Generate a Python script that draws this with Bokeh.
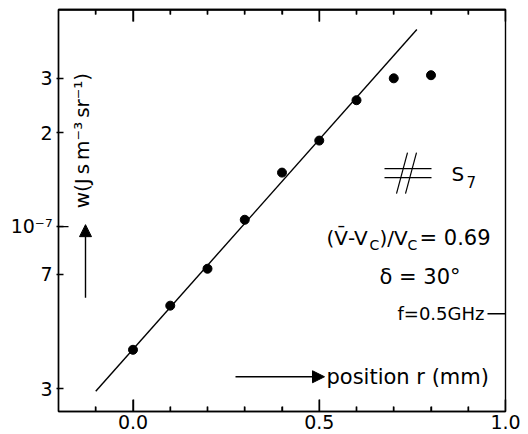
import math
from bokeh.plotting import figure
from bokeh.models import (Range1d, FixedTicker, LinearAxis, CustomJSTickFormatter,
                          Label, Arrow, NormalHead)
from bokeh.embed import file_html
from bokeh.resources import INLINE

# ---- data ----
x_pos = [0.0, 0.1, 0.2, 0.3, 0.4, 0.5, 0.6, 0.7, 0.8]
w_vals = [4.0e-8, 5.55e-8, 7.3e-8, 1.05e-7, 1.49e-7, 1.89e-7, 2.55e-7, 3.0e-7, 3.07e-7]
fit_x = [-0.1, 0.762]
fit_w = [2.94e-8, 4.31e-7]
x_ticks = [0.0, 0.5, 1.0]
x_tick_labels = ["0.0", "0.5", "1.0"]
x_minor = [-0.1, 0.1, 0.2, 0.3, 0.4, 0.6, 0.7, 0.8, 0.9]
y_ticks = [3e-8, 7e-8, 1e-7, 2e-7, 3e-7]
y_tick_labels = ["3", "7", "10⁻⁷", "2", "3"]

X_MIN, X_MAX = -0.2, 1.0
W_MIN, W_MAX = 2.53e-8, 5.0e-7

FONT = "DejaVu Sans"
FS = "20px"
LW = 1.4

p = figure(width=528, height=434, x_range=Range1d(X_MIN, X_MAX),
           y_range=Range1d(W_MIN, W_MAX), y_axis_type="log",
           output_backend="svg", toolbar_location=None,
           min_border_left=58, min_border_right=23, min_border_top=9,
           min_border_bottom=23, background_fill_color="white",
           border_fill_color="white")
p.grid.visible = False
p.outline_line_color = "black"
p.outline_line_width = LW

fmt_js = """
const i = tv.findIndex(t => Math.abs(t - tick) <= 1e-6 * Math.abs(t) + 1e-12);
return i >= 0 ? tl[i] : "";
"""

# bottom axis
xa = p.xaxis[0]
xa.ticker = FixedTicker(ticks=x_ticks, minor_ticks=x_minor)
xa.formatter = CustomJSTickFormatter(args=dict(tv=x_ticks, tl=x_tick_labels), code=fmt_js)
xa.major_tick_in = 12
xa.major_tick_out = 0
xa.minor_tick_in = 5
xa.minor_tick_out = 0
xa.major_label_standoff = 3
xa.major_label_text_font = FONT
xa.major_label_text_font_size = "19px"
xa.major_label_text_color = "black"
xa.axis_line_color = "black"
xa.axis_line_width = LW
xa.major_tick_line_width = LW
xa.minor_tick_line_width = LW

# top axis (ticks only)
ta = LinearAxis(ticker=FixedTicker(ticks=x_ticks, minor_ticks=x_minor),
                formatter=CustomJSTickFormatter(code='return " ";'),
                major_tick_in=12, major_tick_out=0, minor_tick_in=5, minor_tick_out=0,
                major_label_standoff=0, major_label_text_font_size="4px",
                axis_line_color="black", axis_line_width=LW,
                major_tick_line_width=LW, minor_tick_line_width=LW)
p.add_layout(ta, "above")

# left axis
ya = p.yaxis[0]
ya.ticker = FixedTicker(ticks=y_ticks, minor_ticks=[])
ya.formatter = CustomJSTickFormatter(args=dict(tv=y_ticks, tl=y_tick_labels), code=fmt_js)
ya.major_tick_in = 5
ya.major_tick_out = 2
ya.minor_tick_in = 0
ya.minor_tick_out = 0
ya.major_label_standoff = 4
ya.major_label_text_font = FONT
ya.major_label_text_font_size = "19px"
ya.major_label_text_color = "black"
ya.axis_line_width = LW
ya.major_tick_line_width = LW


# helpers: reference pixel -> data position for annotations
def X(px):
    return X_MIN + (px - 58) / 372.5


def Y(py):
    return W_MAX / 10 ** ((py - 9) / 310.0)


# frame edge and inward tick marks along bottom and top (drawn from the tick lists)
p.line([X_MIN, X_MAX], [W_MAX, W_MAX], line_color="black", line_width=2.6)
tick_x = x_ticks + x_minor
tick_len_px = [12] * len(x_ticks) + [5] * len(x_minor)
p.segment(x0=tick_x, y0=[W_MIN] * len(tick_x), x1=tick_x,
          y1=[Y(411 - L) for L in tick_len_px], line_color="black", line_width=LW)
p.segment(x0=tick_x, y0=[W_MAX] * len(tick_x), x1=tick_x,
          y1=[Y(9 + L) for L in tick_len_px], line_color="black", line_width=LW)

# fit line and points
p.line(fit_x, fit_w, line_color="black", line_width=LW)
p.scatter(x_pos, w_vals, size=9, fill_color="black", line_color="black")


def lab(x, y, text, size=FS, align="left", angle=0.0):
    p.add_layout(Label(x=X(x), y=Y(y), text=text, text_font=FONT, text_font_size=size,
                       text_align=align, text_baseline="middle", text_color="black",
                       angle=angle))


# longer inward tick at 10^-7
p.line([X(58), X(68)], [Y(226), Y(226)], line_color="black", line_width=LW)

# y axis label and arrow
lab(81, 140, "w(J\u2009s\u2009m⁻³\u2009sr⁻¹)", size="20px", align="center", angle=math.pi / 2)
p.add_layout(Arrow(x_start=X(85), y_start=Y(297), x_end=X(85), y_end=Y(224),
                   line_width=LW, end=NormalHead(size=12, fill_color="black", line_color="black")))

# x label and arrow
lab(326, 376, "position r (mm)", size="21px")
p.add_layout(Arrow(x_start=X(235), y_start=Y(376), x_end=X(324), y_end=Y(376),
                   line_width=LW, end=NormalHead(size=12, fill_color="black", line_color="black")))

# symbol and S7
for yy in (168, 177):
    p.line([X(384), X(431)], [Y(yy), Y(yy)], line_color="black", line_width=1.2)
p.line([X(407), X(396)], [Y(152), Y(193)], line_color="black", line_width=1.2)
p.line([X(416), X(405)], [Y(152), Y(193)], line_color="black", line_width=1.2)
lab(451, 173, "S", size="20px")
lab(466, 181, "7", size="15px")

# formula (V̄-Vc)/Vc = 0.69   (pieces laid left to right)
lab(326, 237, "(V̄-V", size="20px")
lab(369, 244, "C", size="14px")
lab(379, 237, ")/V", size="20px")
lab(407, 244, "C", size="14px")
lab(419, 237, "= 0.69", size="21px")

lab(379, 276, "δ = 30°", size="21px")
lab(397, 313, "f=0.5GHz", size="18px")
p.line([X(487), X(505)], [Y(313), Y(313)], line_color="black", line_width=LW)

open("out.html", "w").write(file_html(p, INLINE))
